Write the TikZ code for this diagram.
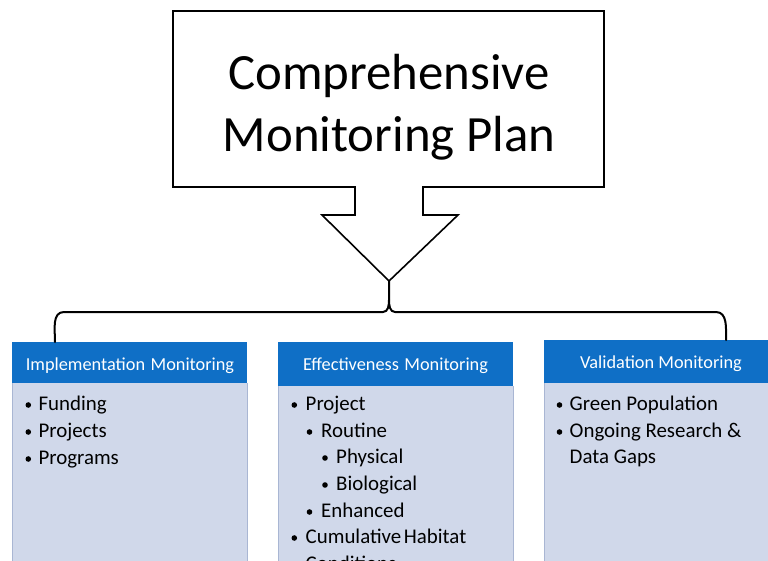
\documentclass[tikz,border=0pt]{standalone}
\usepackage{fontspec}
\setmainfont{Carlito}
\definecolor{hdrblue}{HTML}{0F6FC6}
\definecolor{bodyblue}{HTML}{D0D8EA}
\definecolor{bodyline}{HTML}{A9B6D3}
\tikzset{
  hdr/.style={text=white, font=\fontsize{18.3}{21}\selectfont, anchor=base, inner sep=0pt},
  itm/.style={anchor=base west, inner sep=0pt, font=\fontsize{20.9}{25}\selectfont},
  ttl/.style={anchor=base, inner sep=0pt, font=\fontsize{50.8}{62}\selectfont},
  conn/.style={line width=2pt, line cap=round, line join=round},
  dot/.style={fill=black},
}
\begin{document}
\begin{tikzpicture}[x=1pt,y=-1pt]
\useasboundingbox (0,0) rectangle (768,561);
\clip (0,0) rectangle (768,561);
% callout
\draw[line width=1.6pt, line join=miter] (173,11) -- (604,11) -- (604,187) -- (423,187) -- (423,215) -- (458,215) -- (389,281) -- (322,215) -- (355,215) -- (355,187) -- (173,187) -- cycle;
\coordinate (tip) at (389,281);
\node[ttl] (t1) at (389,90) {Comprehensive};
\node[ttl] (t2) at (389,152) {Monitoring Plan};
% boxes
\fill[bodyblue] (12,383) rectangle (247,575);
\draw[bodyline, line width=0.8pt] (12,383) -- (12,575) (247,383) -- (247,575);
\fill[hdrblue] (12,342) rectangle (247,383);
\node[hdr] (h1) at (130,370) {Implementation\hspace{0.3em}Monitoring};
\coordinate (b1) at (55,342);

\fill[bodyblue] (278,386) rectangle (513,575);
\draw[bodyline, line width=0.8pt] (278,386) -- (278,575) (513,386) -- (513,575);
\fill[hdrblue] (278,342) rectangle (513,386);
\node[hdr] (h2) at (395.5,370) {Effectiveness\hspace{0.3em}Monitoring};
\coordinate (b2) at (389,312);

\fill[bodyblue] (544,383) rectangle (780,575);
\draw[bodyline, line width=0.8pt] (544,383) -- (544,575);
\fill[hdrblue] (544,340) rectangle (780,383);
\node[hdr] (h3) at (661,368) {Validation Monitoring};
\coordinate (b3) at (726,340);

% connector brace
\draw[conn] (tip) -- (389,300) to[out=-90,in=0] (383,312) -- (64,312) to[out=180,in=90] (b1);
\draw[conn] (389,300) to[out=-90,in=180] (395,312) -- (716,312) to[out=0,in=90] (b3);

% items: implementation
\foreach \y in {410,437,464} \fill[dot] (28.3,\y-5) circle (2.8);
\node[itm] (i1) at (38.3,410) {Funding};
\node[itm] (i2) at (38.3,437) {Projects};
\node[itm] (i3) at (38.3,464) {Programs};

% items: effectiveness
\fill[dot] (294.3,405) circle (2.8);
\fill[dot] (309.5,432) circle (2.8);
\fill[dot] (325,458) circle (2.8);
\fill[dot] (325,485) circle (2.8);
\fill[dot] (309.5,512) circle (2.8);
\fill[dot] (294.3,538) circle (2.8);
\node[itm] (e1) at (305.5,410) {Project};
\node[itm] (e2) at (321,437) {Routine};
\node[itm] (e3) at (336,463) {Physical};
\node[itm] (e4) at (336,490) {Biological};
\node[itm] (e5) at (321,517) {Enhanced};
\node[itm] (e6) at (305.5,543) {Cumulative\hspace{0.12em}Habitat};
\node[itm] (e7) at (305.5,570) {Conditions};

% items: validation
\fill[dot] (559.5,405) circle (2.8);
\fill[dot] (559.5,432) circle (2.8);
\node[itm] (v1) at (569.5,410) {Green Population};
\node[itm] (v2) at (569.5,437) {Ongoing Research \&};
\node[itm] (v3) at (569.5,463) {Data Gaps};
\end{tikzpicture}
\end{document}
